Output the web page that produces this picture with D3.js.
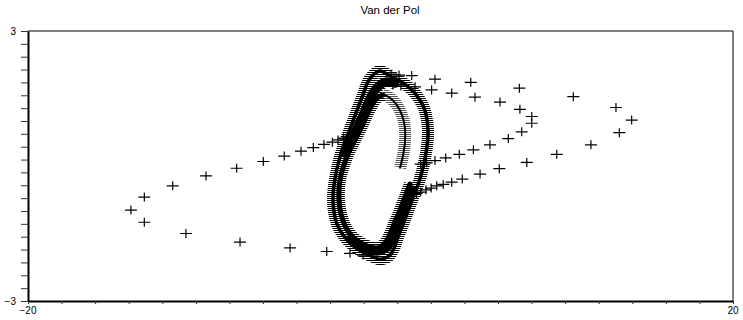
<!DOCTYPE html>
<html>
<head>
<meta charset="utf-8">
<script src="https://cdn.jsdelivr.net/npm/d3@7"></script>
<style>
  body { margin: 0; background: #fff; }
  svg { display: block; font-family: "Liberation Sans", Arial, sans-serif; }
</style>
</head>
<body>
<div id="chart"></div>
<script>
const title = "Van der Pol";
const xDomain = [-20, 20];
const yDomain = [-3, 3];
const xTickLabels = ["\u221220", "20"];
const yTickLabels = ["\u22123", "3"];
const tickIntervals = 21;

// limit cycle, one turn
const cycle = [
  [-0.03, 2.11], [-0.48, 2.0], [-0.77, 1.82], [-0.99, 1.58], [-1.28, 1.29],
  [-1.56, 1.0], [-1.84, 0.71], [-2.13, 0.42], [-2.35, 0.13], [-2.52, -0.16],
  [-2.64, -0.44], [-2.7, -0.73], [-2.64, -1.02], [-2.47, -1.29], [-2.13, -1.53],
  [-1.67, -1.73], [-1.11, -1.89], [-0.54, -2.0], [-0.03, -2.07], [0.48, -2.0],
  [0.77, -1.82], [0.99, -1.58], [1.28, -1.29], [1.56, -1.0], [1.84, -0.71],
  [2.13, -0.42], [2.35, -0.13], [2.52, 0.16], [2.64, 0.44], [2.7, 0.73],
  [2.64, 1.02], [2.47, 1.29], [2.13, 1.53], [1.67, 1.73], [1.11, 1.89],
  [0.54, 2.0]
];

// trajectory starting inside the cycle: first arc, then the turn that joins
const innerArc = [
  [1.11, -0.04], [1.28, 0.24], [1.39, 0.53], [1.39, 0.84], [1.22, 1.13],
  [0.88, 1.38], [0.48, 1.53], [0.14, 1.58]
];
const innerJoin = [
  [0.14, 1.58], [-0.2, 1.51], [-0.48, 1.36], [-0.77, 1.13], [-1.05, 0.89],
  [-1.39, 0.62], [-1.73, 0.36], [-2.01, 0.09], [-2.24, -0.2], [-2.35, -0.49],
  [-2.35, -0.78], [-2.24, -1.07], [-2.01, -1.33], [-1.62, -1.56], [-1.11, -1.71],
  [-0.6, -1.8], [-0.14, -1.82], [0.26, -1.71], [0.54, -1.51], [0.82, -1.24],
  [1.11, -0.98], [1.39, -0.69], [1.67, -0.4]
];

// outer trajectories where they fold onto the cycle
const joinTop = [
  [0.82, 1.84], [0.31, 1.87], [-0.09, 1.78], [-0.43, 1.62], [-0.71, 1.4],
  [-0.99, 1.13], [-1.33, 0.84], [-1.67, 0.56], [-1.96, 0.27]
];
const joinBottom = [
  [-1.73, -1.62], [-1.22, -1.78], [-0.65, -1.87], [-0.14, -1.89], [0.31, -1.82],
  [0.65, -1.64], [0.94, -1.4], [1.22, -1.11], [1.5, -0.82], [1.79, -0.53]
];

// trajectories starting outside
const outerRight = [
  [0.6, 2.04], [1.05, 2.02], [1.77, 2.01], [3.09, 1.93], [5.12, 1.86],
  [7.88, 1.73], [10.94, 1.54], [13.36, 1.3], [14.25, 1.02], [13.55, 0.74],
  [11.94, 0.47], [10.0, 0.26], [8.3, 0.08], [6.74, -0.06], [5.65, -0.18],
  [4.64, -0.29], [4.04, -0.36], [3.56, -0.41], [3.19, -0.44], [2.87, -0.49],
  [2.58, -0.53], [2.28, -0.58], [2.05, -0.61]
];
const innerRight = [
  [0.71, 1.8], [1.16, 1.78], [1.96, 1.76], [2.9, 1.69], [4.04, 1.62],
  [5.36, 1.53], [6.78, 1.42], [7.91, 1.26], [8.58, 1.1], [8.58, 0.95],
  [8.01, 0.76], [7.25, 0.61], [6.21, 0.47], [5.27, 0.36], [4.47, 0.26],
  [3.7, 0.18], [3.09, 0.12], [2.62, 0.07], [2.28, 0.04]
];
const outerLeft = [
  [-0.99, -1.98], [-1.73, -1.94], [-3.05, -1.9], [-5.13, -1.82], [-7.97, -1.69],
  [-11.04, -1.5], [-13.4, -1.25], [-14.16, -0.98], [-13.4, -0.69], [-11.79, -0.44],
  [-9.9, -0.22], [-8.16, -0.05], [-6.65, 0.1], [-5.46, 0.22], [-4.51, 0.33],
  [-3.81, 0.41], [-3.21, 0.48], [-2.73, 0.53], [-2.41, 0.58], [-2.09, 0.62],
  [-1.83, 0.66]
];

const width = 743;
const height = 320;

const x = d3.scaleLinear().domain(xDomain).range([28, 733]);
const y = d3.scaleLinear().domain(yDomain).range([301, 31]);

const svg = d3
  .select("#chart")
  .append("svg")
  .attr("width", width)
  .attr("height", height);

svg.append("rect").attr("width", width).attr("height", height).attr("fill", "#fff");

// horizontal bars, like the crossbars of densely packed markers
const defs = svg.append("defs");
function hatch(id, color) {
  defs
    .append("pattern")
    .attr("id", id)
    .attr("patternUnits", "userSpaceOnUse")
    .attr("width", 4)
    .attr("height", 2)
    .append("rect")
    .attr("width", 4)
    .attr("height", 1)
    .attr("fill", color);
}
hatch("hatchDark", "#000");
hatch("hatchGray", "#555");

svg
  .append("text")
  .attr("x", 390)
  .attr("y", 14)
  .attr("text-anchor", "middle")
  .attr("font-size", 11.5)
  .text(title);

// frame
svg
  .append("path")
  .attr("d", `M${x(xDomain[0])},${y(yDomain[1])}H${x(xDomain[1])}V${y(yDomain[0])}`)
  .attr("fill", "none")
  .attr("stroke", "#000")
  .attr("stroke-width", 1);

const xTicks = d3.range(tickIntervals + 1).map(
  (i) => xDomain[0] + ((xDomain[1] - xDomain[0]) * i) / tickIntervals
);
const yTicks = d3.range(tickIntervals + 1).map(
  (i) => yDomain[0] + ((yDomain[1] - yDomain[0]) * i) / tickIntervals
);

const xAxis = svg
  .append("g")
  .attr("transform", `translate(0,${y(yDomain[0])})`)
  .call(d3.axisBottom(x).tickValues(xTicks).tickSize(3).tickSizeOuter(0).tickFormat(""));

const yAxis = svg
  .append("g")
  .attr("transform", `translate(${x(xDomain[0])},0)`)
  .call(d3.axisLeft(y).tickValues(yTicks).tickSize(7).tickSizeOuter(0).tickFormat(""));

xAxis.select(".domain").attr("stroke-width", 2);
yAxis.select(".domain").attr("stroke-width", 2);
xAxis.selectAll(".tick line").attr("stroke", "#333");
yAxis.selectAll(".tick line").attr("stroke", "#333");

svg
  .selectAll(".xlab")
  .data(xDomain)
  .join("text")
  .attr("class", "xlab")
  .attr("x", (d) => x(d))
  .attr("y", 314)
  .attr("text-anchor", "middle")
  .attr("font-size", 10)
  .text((d, i) => xTickLabels[i]);

svg
  .selectAll(".ylab")
  .data(yDomain)
  .join("text")
  .attr("class", "ylab")
  .attr("x", 16)
  .attr("y", (d) => y(d) + 3.5)
  .attr("text-anchor", "end")
  .attr("font-size", 10)
  .text((d, i) => yTickLabels[i]);

const plot = svg.append("g");

const lineClosed = d3
  .line()
  .x((d) => x(d[0]))
  .y((d) => y(d[1]))
  .curve(d3.curveCatmullRomClosed);

const lineOpen = d3
  .line()
  .x((d) => x(d[0]))
  .y((d) => y(d[1]))
  .curve(d3.curveCatmullRom);

// dense parts: markers so close their crossbars form a hatch round a dark core
function drawDense(data, line, hatchId, core) {
  plot
    .append("path")
    .attr("d", line(data))
    .attr("fill", "none")
    .attr("stroke", `url(#${hatchId})`)
    .attr("stroke-width", 12);
  plot
    .append("path")
    .attr("d", line(data))
    .attr("fill", "none")
    .attr("stroke", "#000")
    .attr("stroke-linecap", "round")
    .attr("stroke-width", core);
}

drawDense(innerArc, lineOpen, "hatchGray", 2);
drawDense(innerJoin, lineOpen, "hatchDark", 5);
drawDense(joinTop, lineOpen, "hatchDark", 9);
drawDense(joinBottom, lineOpen, "hatchDark", 9);
drawDense(cycle, lineClosed, "hatchDark", 3.5);

const marker = "M-6,0H6M0,-4.5V4.5";

function drawMarkers(data) {
  plot
    .append("g")
    .selectAll("path")
    .data(data)
    .join("path")
    .attr("transform", (d) => `translate(${x(d[0])},${y(d[1])})`)
    .attr("d", marker)
    .attr("fill", "none")
    .attr("stroke", "#000")
    .attr("stroke-width", 1.2);
}

[outerRight, innerRight, outerLeft].forEach(drawMarkers);
</script>
</body>
</html>
